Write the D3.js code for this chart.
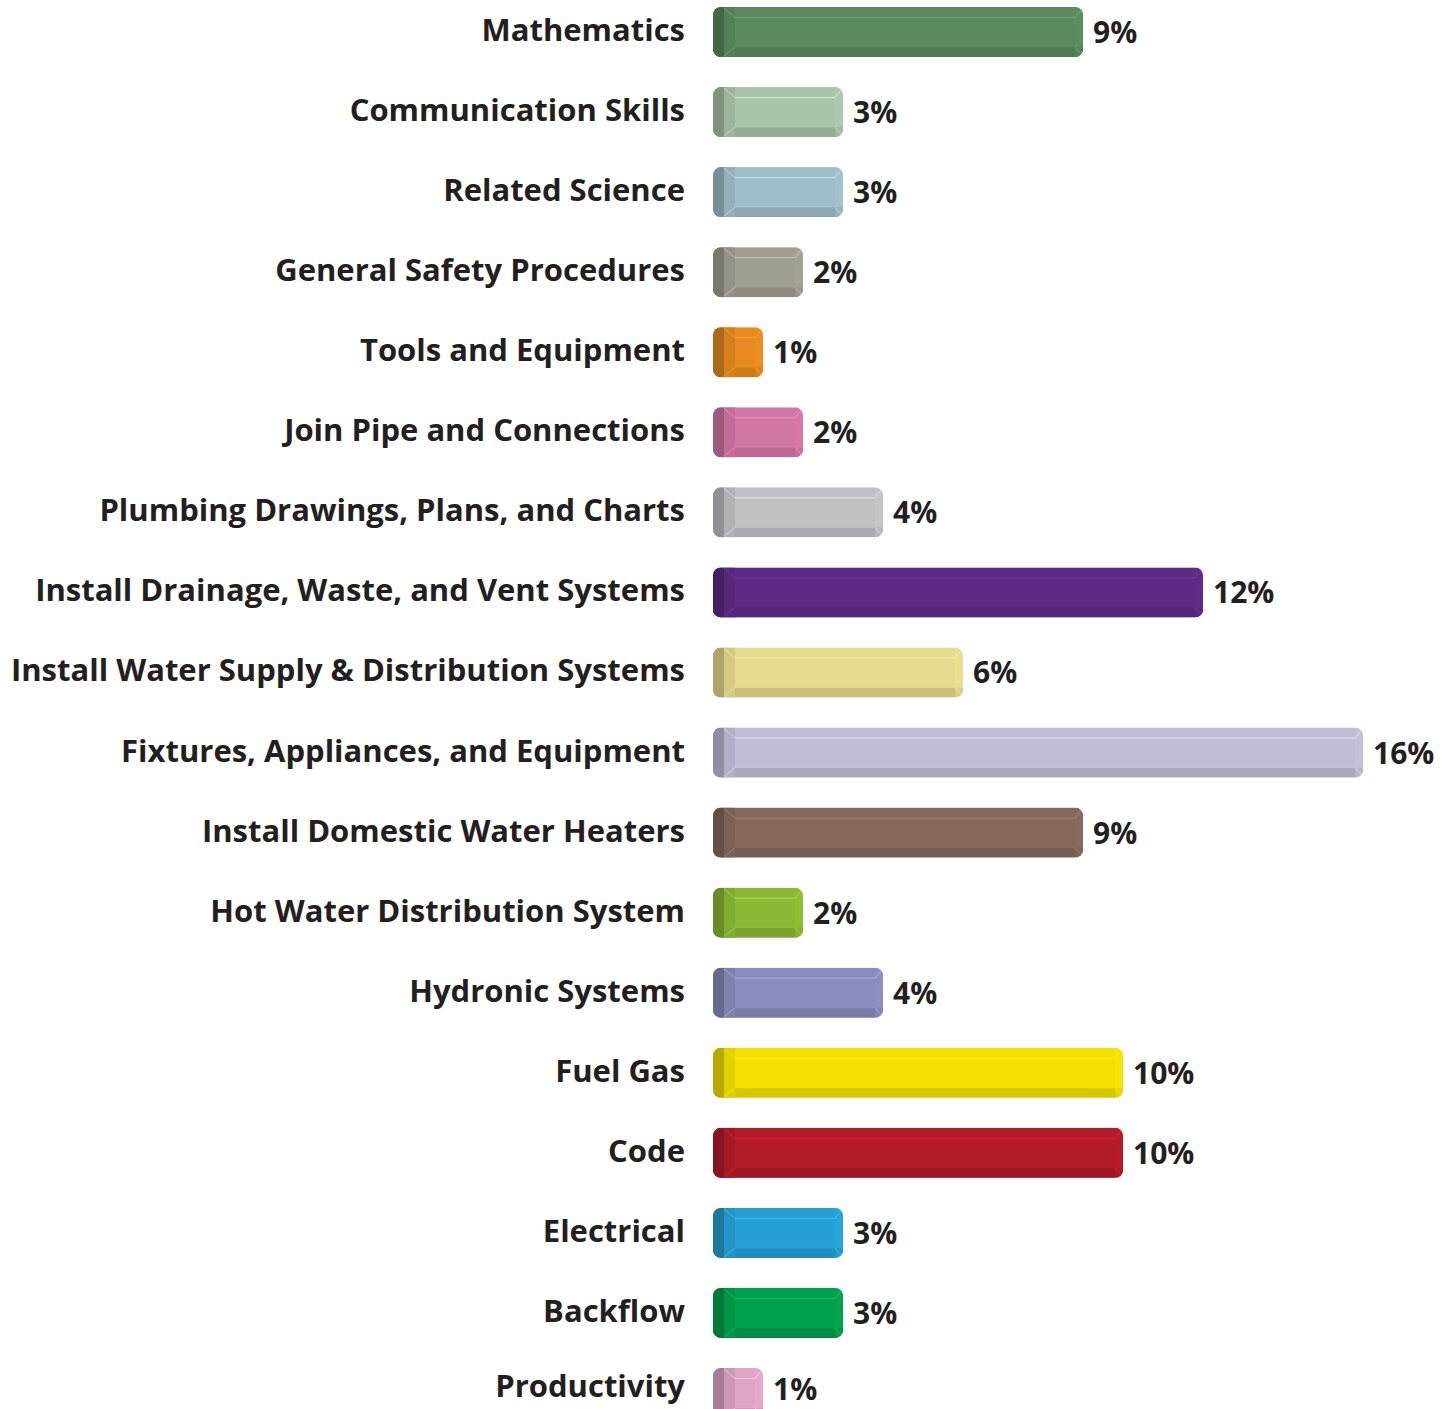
<!DOCTYPE html>
<html>
<head>
<meta charset="utf-8">
<script src="https://cdn.jsdelivr.net/npm/d3@7/dist/d3.min.js"></script>
<style>
  html, body { margin: 0; padding: 0; background: #ffffff; }
  svg { display: block; }
</style>
</head>
<body>
<svg id="chart" width="1451" height="1409"></svg>
<script>
const categories = [
  "Mathematics",
  "Communication Skills",
  "Related Science",
  "General Safety Procedures",
  "Tools and Equipment",
  "Join Pipe and Connections",
  "Plumbing Drawings, Plans, and Charts",
  "Install Drainage, Waste, and Vent Systems",
  "Install Water Supply & Distribution Systems",
  "Fixtures, Appliances, and Equipment",
  "Install Domestic Water Heaters",
  "Hot Water Distribution System",
  "Hydronic Systems",
  "Fuel Gas",
  "Code",
  "Electrical",
  "Backflow",
  "Productivity"
];
const values = [9, 3, 3, 2, 1, 2, 4, 12, 6, 16, 9, 2, 4, 10, 10, 3, 3, 1];
const colors = [
  "#5a8a5e", "#a9c4a8", "#9ebfc9", "#a19f92", "#e88a1f", "#d276a6",
  "#c0c1c3", "#5e2a84", "#e5da8d", "#c1bdd6", "#86685d", "#8cb935",
  "#8b8bbd", "#f2e100", "#b31b2a", "#27a0d5", "#00a04c", "#dfa5c5"
];
const valueLabels = values.map(v => v + "%");

const data = categories.map((c, i) => ({ cat: c, value: values[i], color: colors[i], label: valueLabels[i], i }));

const W = 1451, H = 1409;
const svg = d3.select("#chart");
const barStart = 713;
const x = d3.scaleLinear().domain([0, 16]).range([723, 1363]);
const y = d3.scalePoint().domain(categories).range([32, 1393]);
const barH = 50;
const textColor = "#231f20";
const fontFamily = "'Open Sans', Lato, sans-serif";

const defs = svg.append("defs");

const g = svg.selectAll("g.bar").data(data).enter().append("g")
  .attr("class", "bar")
  .attr("transform", d => `translate(${barStart},${y(d.cat) - barH / 2})`);

g.each(function(d) {
  const grp = d3.select(this);
  const w = x(d.value) - barStart;
  const id = "clip" + d.i;
  defs.append("clipPath").attr("id", id)
    .append("rect").attr("width", w).attr("height", barH).attr("rx", 8).attr("ry", 8);
  const c = d3.color(d.color);
  const inner = grp.append("g").attr("clip-path", `url(#${id})`);
  inner.append("rect").attr("width", w).attr("height", barH).attr("fill", c.formatHex());
  inner.append("rect").attr("y", barH - 10).attr("width", w).attr("height", 10)
    .attr("fill", c.darker(0.35).formatHex());
  inner.append("rect").attr("x", 11).attr("width", 11).attr("height", barH)
    .attr("fill", c.darker(0.22).formatHex());
  inner.append("rect").attr("x", 0).attr("width", 11).attr("height", barH)
    .attr("fill", c.darker(0.8).formatHex());
  inner.append("line").attr("x1", 22).attr("x2", w - 8).attr("y1", 10.5).attr("y2", 10.5)
    .attr("stroke", c.brighter(0.9).formatHex()).attr("stroke-opacity", 0.6).attr("stroke-width", 1);
  inner.append("line").attr("x1", 22).attr("x2", w - 8).attr("y1", barH - 10).attr("y2", barH - 10)
    .attr("stroke", c.brighter(0.5).formatHex()).attr("stroke-opacity", 0.3).attr("stroke-width", 1);
  inner.append("rect").attr("x", w - 8).attr("width", 8).attr("height", barH)
    .attr("fill", c.brighter(0.15).formatHex()).attr("fill-opacity", 0.4);
  const cornerStroke = c.brighter(1.2).formatHex();
  inner.append("path")
    .attr("d", `M11,1 L22,10.5 M11,${barH - 1} L22,${barH - 10} M${w - 1},2 L${w - 8},10.5 M${w - 1},${barH - 2} L${w - 8},${barH - 10}`)
    .attr("stroke", cornerStroke).attr("stroke-opacity", 0.45).attr("stroke-width", 1).attr("fill", "none");
});

svg.selectAll("text.cat").data(data).enter().append("text")
  .attr("class", "cat")
  .attr("x", 685)
  .attr("y", d => Math.min(y(d.cat) + 9, H - 12))
  .attr("text-anchor", "end")
  .attr("font-family", fontFamily)
  .attr("font-weight", 700)
  .attr("font-size", 31)
  .attr("fill", textColor)
  .text(d => d.cat);

svg.selectAll("text.val").data(data).enter().append("text")
  .attr("class", "val")
  .attr("x", d => x(d.value) + 10)
  .attr("y", d => Math.min(y(d.cat) + 11, H - 9))
  .attr("text-anchor", "start")
  .attr("font-family", fontFamily)
  .attr("font-weight", 700)
  .attr("font-size", 30)
  .attr("fill", textColor)
  .text(d => d.label);
</script>
</body>
</html>
